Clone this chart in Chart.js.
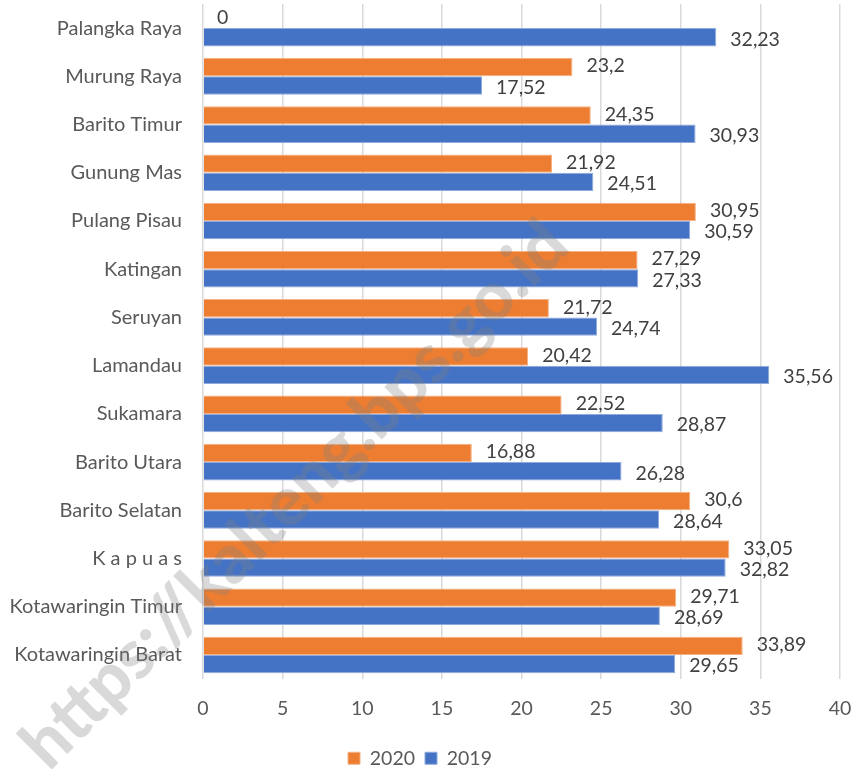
<!DOCTYPE html>
<html>
<head>
<meta charset="utf-8">
<script src="https://cdn.jsdelivr.net/npm/chart.js@4.4.0/dist/chart.umd.min.js"></script>
<style>
  body { margin: 0; background: #fff; }
  #wrap { width: 858px; height: 769px; }
</style>
</head>
<body>
<div id="wrap"><canvas id="chart" width="858" height="769"></canvas></div>
<script>
// data
var regions = ["Palangka Raya", "Murung Raya", "Barito Timur", "Gunung Mas", "Pulang Pisau", "Katingan", "Seruyan",
  "Lamandau", "Sukamara", "Barito Utara", "Barito Selatan", "K a p u a s", "Kotawaringin Timur", "Kotawaringin Barat"];
var values2020 = [0, 23.2, 24.35, 21.92, 30.95, 27.29, 21.72, 20.42, 22.52, 16.88, 30.6, 33.05, 29.71, 33.89];
var values2019 = [32.23, 17.52, 30.93, 24.51, 30.59, 27.33, 24.74, 35.56, 28.87, 26.28, 28.64, 32.82, 28.69, 29.65];
var xTicks = [0, 5, 10, 15, 20, 25, 30, 35, 40];

var FONT = "Lato";

// value labels at the end of each bar, comma as decimal separator
var barLabels = {
  id: 'barLabels',
  afterDatasetsDraw: function(chart){
    var ctx = chart.ctx;
    ctx.save();
    ctx.font = "19.5px " + FONT;
    ctx.fillStyle = "#404040";
    ctx.textAlign = "left";
    ctx.textBaseline = "middle";
    chart.data.datasets.forEach(function(ds, i){
      var meta = chart.getDatasetMeta(i);
      meta.data.forEach(function(bar, j){
        var txt = String(ds.data[j]).replace('.', ',');
        ctx.fillText(txt, bar.x + 14, bar.y + (i == 0 ? -1 : 2));
      });
    });
    ctx.restore();
  }
};

// the site watermark across the plot
var watermark = {
  id: 'watermark',
  afterDraw: function(chart){
    var ctx = chart.ctx;
    var txt = "https://kalteng.bps.go.id";
    ctx.save();
    ctx.font = "900 50px " + FONT;
    var w = ctx.measureText(txt).width;
    var size = 50 * 740 / w;
    ctx.font = "900 " + size + "px " + FONT;
    ctx.translate(295, 495);
    ctx.rotate(-Math.PI / 4);
    ctx.fillStyle = "rgba(128,128,128,0.3)";
    ctx.textAlign = "center";
    ctx.textBaseline = "middle";
    ctx.fillText(txt, 0, 0);
    ctx.restore();
  }
};

var ctx = document.getElementById('chart').getContext('2d');
var chart = new Chart(ctx, {
  type: 'bar',
  data: {
    labels: regions,
    datasets: [{
      label: "2020",
      data: values2020,
      backgroundColor: "#ED7D31",
      borderColor: "#f4b183",
      borderWidth: 1,
      categoryPercentage: 0.76,
      barPercentage: 1
    }, {
      label: "2019",
      data: values2019,
      backgroundColor: "#4472C4",
      borderColor: "#8faadc",
      borderWidth: 1,
      categoryPercentage: 0.76,
      barPercentage: 1
    }]
  },
  options: {
    indexAxis: 'y',
    responsive: false,
    animation: false,
    layout: { padding: { top: 4, right: 18, left: 0, bottom: -9 } },
    plugins: {
      legend: {
        position: 'bottom',
        labels: {
          font: { family: FONT, size: 19.5 },
          color: "#595959",
          boxWidth: 12,
          boxHeight: 12,
          padding: 10
        }
      },
      tooltip: { enabled: false }
    },
    scales: {
      x: {
        min: 0,
        max: 40,
        afterBuildTicks: function(scale){
          scale.ticks = xTicks.map(function(v){ return { value: v }; });
        },
        afterFit: function(scale){ scale.paddingLeft = 0; scale.paddingRight = 0; },
        grid: { color: "#d9d9d9", lineWidth: 1.5, drawTicks: false },
        border: { display: false },
        ticks: {
          font: { family: FONT, size: 19.5 },
          color: "#595959",
          padding: 18
        }
      },
      y: {
        grid: { display: false, drawTicks: false },
        border: { display: false },
        afterFit: function(scale){
          scale.width = 203;
          scale.paddingTop = 0;
          scale.paddingBottom = 0;
        },
        ticks: {
          font: { family: FONT, size: 20 },
          color: "#595959",
          padding: 21
        }
      }
    }
  },
  plugins: [barLabels, watermark]
});
</script>
</body>
</html>
